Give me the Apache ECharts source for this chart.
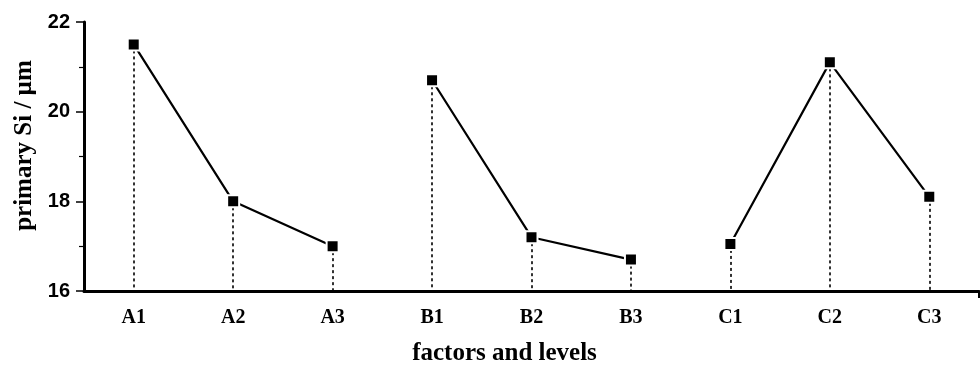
<!DOCTYPE html>
<html>
<head>
<meta charset="utf-8">
<script src="https://cdn.jsdelivr.net/npm/echarts@6/dist/echarts.min.js"></script>
<style>html,body{margin:0;padding:0;background:#fff}#c{width:980px;height:371px}</style>
</head>
<body>
<div id="c"></div>
<script>
const categories = ['A1','A2','A3','B1','B2','B3','C1','C2','C3'];
const factorACats = ['A1','A2','A3'];
const factorAValues = [21.5, 18.0, 17.0];
const factorBCats = ['B1','B2','B3'];
const factorBValues = [20.7, 17.2, 16.7];
const factorCCats = ['C1','C2','C3'];
const factorCValues = [17.05, 21.1, 18.1];
const yTicks = [16, 18, 20, 22];
const yMin = 16;

function makeSeries(cats, vals) {
  return {
    type: 'line',
    data: cats.map((c, i) => [c, vals[i]]),
    symbol: 'rect',
    symbolSize: 12,
    lineStyle: { color: '#000', width: 2.2 },
    itemStyle: { color: '#000', borderColor: '#fff', borderWidth: 2 },
    z: 5,
    markLine: {
      silent: true,
      symbol: 'none',
      label: { show: false },
      lineStyle: { color: '#000', type: [3, 3], width: 1.6 },
      z: 2,
      animation: false,
      data: cats.map((c, i) => [{ coord: [c, vals[i]] }, { coord: [c, yMin] }])
    },
    animation: false
  };
}

const chart = echarts.init(document.getElementById('c'));
chart.setOption({
  backgroundColor: '#fff',
  animation: false,
  grid: { left: 84, top: 22, width: 895, bottom: 80, containLabel: false },
  xAxis: [{
    type: 'category',
    data: categories,
    boundaryGap: true,
    name: 'factors and levels',
    nameLocation: 'middle',
    nameGap: 50,
    nameTextStyle: { fontFamily: 'Liberation Serif', fontWeight: 'bold', fontSize: 25, color: '#000', padding: [0, 54, 0, 0] },
    axisLine: { show: true, lineStyle: { color: '#000', width: 3 } },
    axisTick: { show: false },
    axisLabel: { fontFamily: 'Liberation Serif', fontWeight: 'bold', fontSize: 20, color: '#000', margin: 17 },
    splitLine: { show: false }
  }, {
    type: 'value',
    position: 'bottom',
    min: 0, max: 1,
    axisLine: { show: false },
    axisTick: { show: true, customValues: [1], length: 7, lineStyle: { color: '#000', width: 2 } },
    axisLabel: { show: false },
    splitLine: { show: false }
  }],
  yAxis: {
    type: 'value',
    min: yTicks[0],
    max: yTicks[yTicks.length - 1],
    interval: 2,
    name: 'primary Si / µm',
    nameLocation: 'middle',
    nameRotate: 90,
    nameGap: 47,
    nameTextStyle: { fontFamily: 'Liberation Serif', fontWeight: 'bold', fontSize: 25, color: '#000', padding: [0, 0, 0, 22] },
    axisLine: { show: true, lineStyle: { color: '#000', width: 3 } },
    axisTick: { show: true, inside: false, length: 8, lineStyle: { color: '#000', width: 1.5 } },
    minorTick: { show: true, splitNumber: 2, length: 5, lineStyle: { color: '#000', width: 1.2 } },
    axisLabel: { fontFamily: 'Liberation Sans', fontWeight: 'bold', fontSize: 20, color: '#000', margin: 14 },
    splitLine: { show: false },
    minorSplitLine: { show: false }
  },
  series: [
    makeSeries(factorACats, factorAValues),
    makeSeries(factorBCats, factorBValues),
    makeSeries(factorCCats, factorCValues)
  ]
});
</script>
</body>
</html>
